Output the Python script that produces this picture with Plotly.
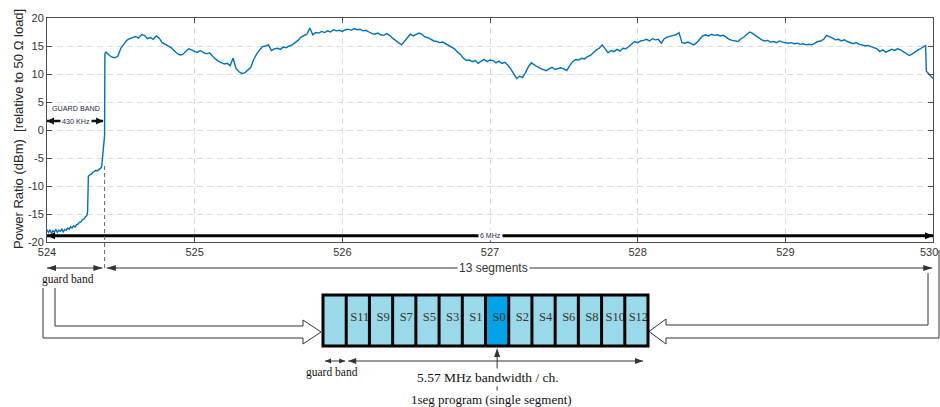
import plotly.graph_objects as go

# ---------------- spectrum sweep (frequency in MHz, power in dBm) ----------------
# lower guard band, sampled irregularly around the steps
guard_freq_mhz = [
    524.00, 524.01, 524.02, 524.03, 524.04, 524.05, 524.06, 524.07, 524.08, 524.09,
    524.10, 524.11, 524.12, 524.13, 524.14, 524.15, 524.16, 524.17, 524.18, 524.19,
    524.20, 524.21, 524.22, 524.23, 524.24, 524.25, 524.26, 524.27, 524.275, 524.28,
    524.29, 524.30, 524.31, 524.32, 524.33, 524.34, 524.35, 524.36, 524.37, 524.375,
    524.38, 524.385, 524.39, 524.392,
]
guard_power_dbm = [
    -17.8, -18.3, -17.9, -18.4, -18.0, -18.2, -17.8, -18.3, -17.9, -18.1,
    -17.7, -18.2, -17.8, -17.9, -17.5, -17.7, -17.3, -17.5, -17.1, -17.3,
    -16.9, -16.8, -16.5, -16.4, -16.0, -15.9, -15.5, -15.3, -14.6, -8.3,
    -8.0, -7.9, -7.6, -7.4, -7.2, -7.3, -7.0, -6.9, -6.6, -5.2,
    -4.6, -2.5, -1.0, 13.6,
]

# in-channel sweep: uniform 20 kHz steps starting at 524.40 MHz
sweep_start_mhz = 524.40
sweep_step_mhz = 0.02
channel_power_dbm = [
    13.9, 13.4, 13.0, 12.9, 13.2, 14.6, 15.4, 16.0, 16.3, 16.5,   # 524.40
    16.7, 16.4, 17.0, 16.9, 16.3, 16.5, 16.2, 16.8, 16.4, 15.6,   # 524.60
    15.3, 15.0, 14.7, 14.2, 13.7, 13.4, 13.5, 14.0, 14.5, 14.3,   # 524.80
    14.0, 13.9, 14.2, 13.8, 13.6, 13.8, 13.2, 12.7, 12.3, 12.1,   # 525.00
    11.8, 11.9, 11.5, 12.8, 11.0, 10.4, 10.1, 10.2, 10.7, 11.2,   # 525.20
    12.6, 13.6, 14.3, 14.9, 15.0, 15.2, 14.2, 14.5, 14.6, 14.4,   # 525.40
    14.8, 14.7, 15.0, 15.2, 15.6, 16.0, 16.6, 16.9, 17.1, 18.2,   # 525.60
    17.0, 17.4, 17.3, 17.6, 17.4, 17.7, 17.5, 17.9, 17.7, 17.8,   # 525.80
    17.6, 17.9, 18.0, 17.8, 18.1, 17.9, 18.0, 17.7, 17.8, 17.5,   # 526.00
    17.2, 17.1, 17.3, 17.0, 16.9, 17.2, 16.9, 16.4, 16.0, 15.6,   # 526.20
    15.2, 15.8, 16.5, 17.1, 16.8, 17.0, 17.3, 17.1, 16.6, 16.5,   # 526.40
    16.2, 15.9, 15.8, 15.6, 15.7, 15.4, 15.2, 14.8, 14.5, 13.9,   # 526.60
    13.5, 12.8, 12.4, 12.5, 12.2, 12.4, 11.9, 12.3, 12.6, 12.2,   # 526.80
    12.5, 12.4, 12.0, 12.3, 11.9, 12.1, 11.6, 10.9, 10.0, 9.2,    # 527.00
    9.6, 9.4, 10.2, 11.3, 12.0, 11.6, 11.3, 11.0, 10.8, 10.6,     # 527.20
    10.9, 11.2, 10.8, 11.0, 11.1, 10.9, 10.6, 11.5, 12.2, 12.6,   # 527.40
    12.5, 12.8, 12.7, 13.1, 13.3, 13.8, 14.3, 14.6, 15.2, 14.5,   # 527.60
    13.8, 14.2, 14.0, 14.4, 14.1, 14.6, 14.5, 14.9, 15.4, 15.8,   # 527.80
    15.6, 15.9, 16.0, 16.2, 15.9, 16.3, 16.1, 16.2, 15.5, 16.3,   # 528.00
    16.6, 16.8, 16.9, 17.0, 17.4, 15.6, 15.5, 15.7, 15.4, 15.2,   # 528.20
    15.6, 16.3, 16.8, 17.0, 16.8, 17.1, 16.9, 17.0, 16.8, 16.9,   # 528.40
    16.5, 16.2, 16.0, 15.9, 15.8, 16.3, 16.6, 17.1, 17.5, 17.2,   # 528.60
    16.8, 16.4, 16.1, 15.9, 16.0, 15.7, 15.8, 15.6, 15.9, 15.7,   # 528.80
    15.6, 15.5, 15.6, 15.4, 15.5, 15.3, 15.4, 15.2, 15.3, 15.2,   # 529.00
    15.5, 15.8, 15.9, 16.2, 16.9, 16.7, 16.4, 16.1, 16.2, 15.9,   # 529.20
    16.1, 15.8, 15.6, 15.4, 15.6, 15.3, 15.2, 15.0, 15.1, 14.9,   # 529.40
    14.8, 14.5, 14.0, 14.3, 13.9, 14.1, 14.4, 14.2, 14.5, 14.3,   # 529.60
    14.0, 13.7, 13.3, 13.6, 14.0, 14.3, 14.6, 15.0,               # 529.80
]

# upper band edge roll-off
edge_freq_mhz = [529.95, 529.955, 529.97, 529.99, 530.00]
edge_power_dbm = [15.1, 10.5, 10.1, 9.4, 9.2]

x_ticks = [524, 525, 526, 527, 528, 529, 530]
y_ticks = [20, 15, 10, 5, 0, -5, -10, -15, -20]

band_start_mhz = 524.0
band_end_mhz = 530.0
channel_start_mhz = 524.39     # end of the lower guard band

segment_labels = ["", "S11", "S9", "S7", "S5", "S3", "S1", "S0",
                  "S2", "S4", "S6", "S8", "S10", "S12"]
oneseg_label = "S0"

channel_freq_mhz = [round(sweep_start_mhz + i * sweep_step_mhz, 3)
                    for i in range(len(channel_power_dbm))]
freq_mhz = guard_freq_mhz + channel_freq_mhz + edge_freq_mhz
power_dbm = guard_power_dbm + channel_power_dbm + edge_power_dbm

# ---------------- figure geometry (pixels) ----------------
W, H = 940, 407
PLOT_L, PLOT_R, PLOT_T, PLOT_B = 47, 933, 18, 242

SANS = "Liberation Sans, Arial, sans-serif"
SERIF = "Liberation Serif, Times New Roman, serif"
AXIS_COLOR = "#4d4d4d"
TEXT_COLOR = "#2b2b2b"
TICK_TEXT = "#333333"
LINE_BLUE = "#0072BD"
CELL_LIGHT = "#99D9EA"
CELL_DARK = "#00A2E8"

fig = go.Figure()

fig.add_trace(go.Scatter(
    x=freq_mhz, y=power_dbm, mode="lines",
    line=dict(color=LINE_BLUE, width=1.4),
    hoverinfo="skip", xaxis="x", yaxis="y",
))

shapes = []
annotations = []


def double_arrow(x0, x1, y, xref, yref, width, head_len, head_half, color, layer="above"):
    """Horizontal line with a filled triangular head at each end."""
    shapes.append(dict(type="line", xref=xref, yref=yref, x0=x0, x1=x1, y0=y, y1=y,
                       line=dict(color=color, width=width), layer=layer))
    for tip, sign in ((x0, 1), (x1, -1)):
        shapes.append(dict(
            type="path", xref=xref, yref=yref, xsizemode="pixel", ysizemode="pixel",
            xanchor=tip, yanchor=y,
            path=f"M0,0 L{sign * head_len},{head_half} L{sign * head_len},{-head_half} Z",
            fillcolor=color, line=dict(width=0), layer=layer))


def label(text, x, y, size, xref="x2", yref="y2", family=SANS, color=TEXT_COLOR,
          bg=None, angle=0, xshift=0):
    annotations.append(dict(
        text=text, x=x, y=y, xref=xref, yref=yref, showarrow=False,
        xanchor="center", yanchor="middle", textangle=angle, xshift=xshift,
        font=dict(family=family, size=size, color=color),
        bgcolor=bg if bg else "rgba(0,0,0,0)", borderpad=1))


# ---- annotations inside the spectrum plot ----
guard_mid = (band_start_mhz + channel_start_mhz) / 2
double_arrow(band_start_mhz, channel_start_mhz - 0.01, 1.6, "x", "y", 2.5, 7, 3.5, "#111111")
label("GUARD BAND", guard_mid, 3.9, 7.2, xref="x", yref="y", color="#1c2a48")
label("430 KHz", guard_mid, 1.6, 7.2, xref="x", yref="y", color="#1c2a48", bg="white")

double_arrow(band_start_mhz, band_end_mhz, -18.9, "x", "y", 3, 8, 3.5, "#000000")
label("6 MHz", (band_start_mhz + band_end_mhz) / 2, -18.9, 7, xref="x", yref="y",
      color="#1c2a48", bg="white")

# guard band edge marker, running down into the diagram below
shapes.append(dict(type="line", xref="x", yref="y2", x0=channel_start_mhz, x1=channel_start_mhz,
                   y0=166, y1=269, line=dict(color="#666666", width=1, dash="4px,3px"),
                   layer="above"))

# ---- frequency-span arrows under the axis ----
double_arrow(band_start_mhz, channel_start_mhz - 0.015, 268, "x", "y2", 1, 9, 3, "#333333")
double_arrow(channel_start_mhz + 0.015, band_end_mhz - 0.005, 268, "x", "y2", 1, 9, 3, "#333333")
label("13 segments", 493, 268, 12, bg="white", color="#333333")
label("guard band", 68, 279, 11.5, family=SERIF, color="#111111")

# ---- outlined block arrows feeding the segment diagram ----
shapes.append(dict(type="path", xref="x2", yref="y2", layer="above",
                   path="M43,288 L43,338 L303,338 L303,344 L321,332 L303,320 L303,326 L55,326 L55,288",
                   line=dict(color="#333333", width=1)))
shapes.append(dict(type="path", xref="x2", yref="y2", layer="above",
                   path="M928,273 L928,325 L666,325 L666,319 L649,331.5 L666,344 L666,338 L939,338 L939,250",
                   line=dict(color="#333333", width=1)))

# ---- OFDM segment arrangement ----
BOX_L, BOX_R, BOX_T, BOX_B = 323, 648, 295, 346
n_cells = len(segment_labels)
pitch = (BOX_R - BOX_L) / n_cells
seg_x, seg_y, seg_text = [], [], []
for i, name in enumerate(segment_labels):
    x0 = BOX_L + i * pitch
    shapes.append(dict(type="rect", xref="x2", yref="y2", layer="below",
                       x0=x0, x1=x0 + pitch, y0=BOX_T, y1=BOX_B,
                       fillcolor=CELL_DARK if name == oneseg_label else CELL_LIGHT,
                       line=dict(width=0)))
    if name:
        seg_x.append(x0 + pitch / 2 + 2)
        seg_y.append(318)
        seg_text.append(name)
    if i > 0:
        shapes.append(dict(type="line", xref="x2", yref="y2", layer="above",
                           x0=x0, x1=x0, y0=BOX_T, y1=BOX_B,
                           line=dict(color="#000000", width=3)))
shapes.append(dict(type="rect", xref="x2", yref="y2", layer="above",
                   x0=BOX_L, x1=BOX_R, y0=BOX_T, y1=BOX_B,
                   line=dict(color="#000000", width=3)))

fig.add_trace(go.Scatter(
    x=seg_x, y=seg_y, text=seg_text, mode="text", xaxis="x2", yaxis="y2",
    textposition="middle center", cliponaxis=False, hoverinfo="skip",
    textfont=dict(family=SERIF, size=12.5, color="#3a3420"),
))

oneseg_idx = segment_labels.index(oneseg_label)
oneseg_x = BOX_L + (oneseg_idx + 0.5) * pitch
guard_cell_r = BOX_L + pitch

double_arrow(BOX_L + 2, guard_cell_r - 1, 361, "x2", "y2", 1, 6, 2.5, "#333333")
double_arrow(guard_cell_r + 2, BOX_R - 5, 361, "x2", "y2", 1, 8, 3, "#333333")
shapes.append(dict(type="line", xref="x2", yref="y2", layer="above",
                   x0=oneseg_x, x1=oneseg_x, y0=392, y1=352,
                   line=dict(color="#333333", width=1)))
shapes.append(dict(type="path", xref="x2", yref="y2", layer="above",
                   path=f"M{oneseg_x},348 L{oneseg_x - 3},357 L{oneseg_x + 3},357 Z",
                   fillcolor="#333333", line=dict(width=0)))

label("guard band", 332, 372, 11.5, family=SERIF, color="#111111")
label("5.57 MHz bandwidth / ch.", 488, 377, 13.5, family=SERIF, color="#111111", bg="white")
label("1seg program (single segment)", 491, 399, 13, family=SERIF, color="#111111", bg="white")

# ---- y-axis title ----
label("Power Ratio (dBm)\u00a0 [relative to 50 \u03a9 load]", 18, 129, 13, color="#262626",
      angle=-90)

# the last x label sits at the page edge, so it is drawn as a label nudged inward
x_tick_text = [str(v) for v in x_ticks]
x_tick_text[-1] = ""
label(str(x_ticks[-1]), x_ticks[-1], 252, 11, xref="x", yref="y2", color=TICK_TEXT, xshift=-4)

axis_common = dict(
    ticks="inside", ticklen=5, tickcolor=AXIS_COLOR, tickwidth=1,
    showline=True, linecolor=AXIS_COLOR, linewidth=1, mirror="ticks",
    showgrid=True, gridcolor="#dcdcdc", gridwidth=1, griddash="6px,4px",
    zeroline=False, automargin=False, ticklabeloverflow="allow",
    tickfont=dict(family=SANS, size=11, color=TICK_TEXT),
)

fig.update_layout(
    width=W, height=H,
    margin=dict(l=0, r=0, t=0, b=0, autoexpand=False),
    paper_bgcolor="white",
    plot_bgcolor="rgba(0,0,0,0)",
    showlegend=False,
    xaxis=dict(
        domain=[PLOT_L / W, PLOT_R / W], range=[band_start_mhz, band_end_mhz],
        tickvals=x_ticks, ticktext=x_tick_text, anchor="y",
        **axis_common,
    ),
    yaxis=dict(
        domain=[1 - PLOT_B / H, 1 - PLOT_T / H], range=[-20, 20],
        tickvals=y_ticks, ticktext=[str(v) for v in y_ticks], anchor="x",
        **axis_common,
    ),
    xaxis2=dict(domain=[0, 1], range=[0, W], visible=False, anchor="y2",
                fixedrange=True, automargin=False),
    yaxis2=dict(domain=[0, 1], range=[H, 0], visible=False, anchor="x2",
                fixedrange=True, automargin=False),
    shapes=shapes,
    annotations=annotations,
)

fig.write_html("out.html")
